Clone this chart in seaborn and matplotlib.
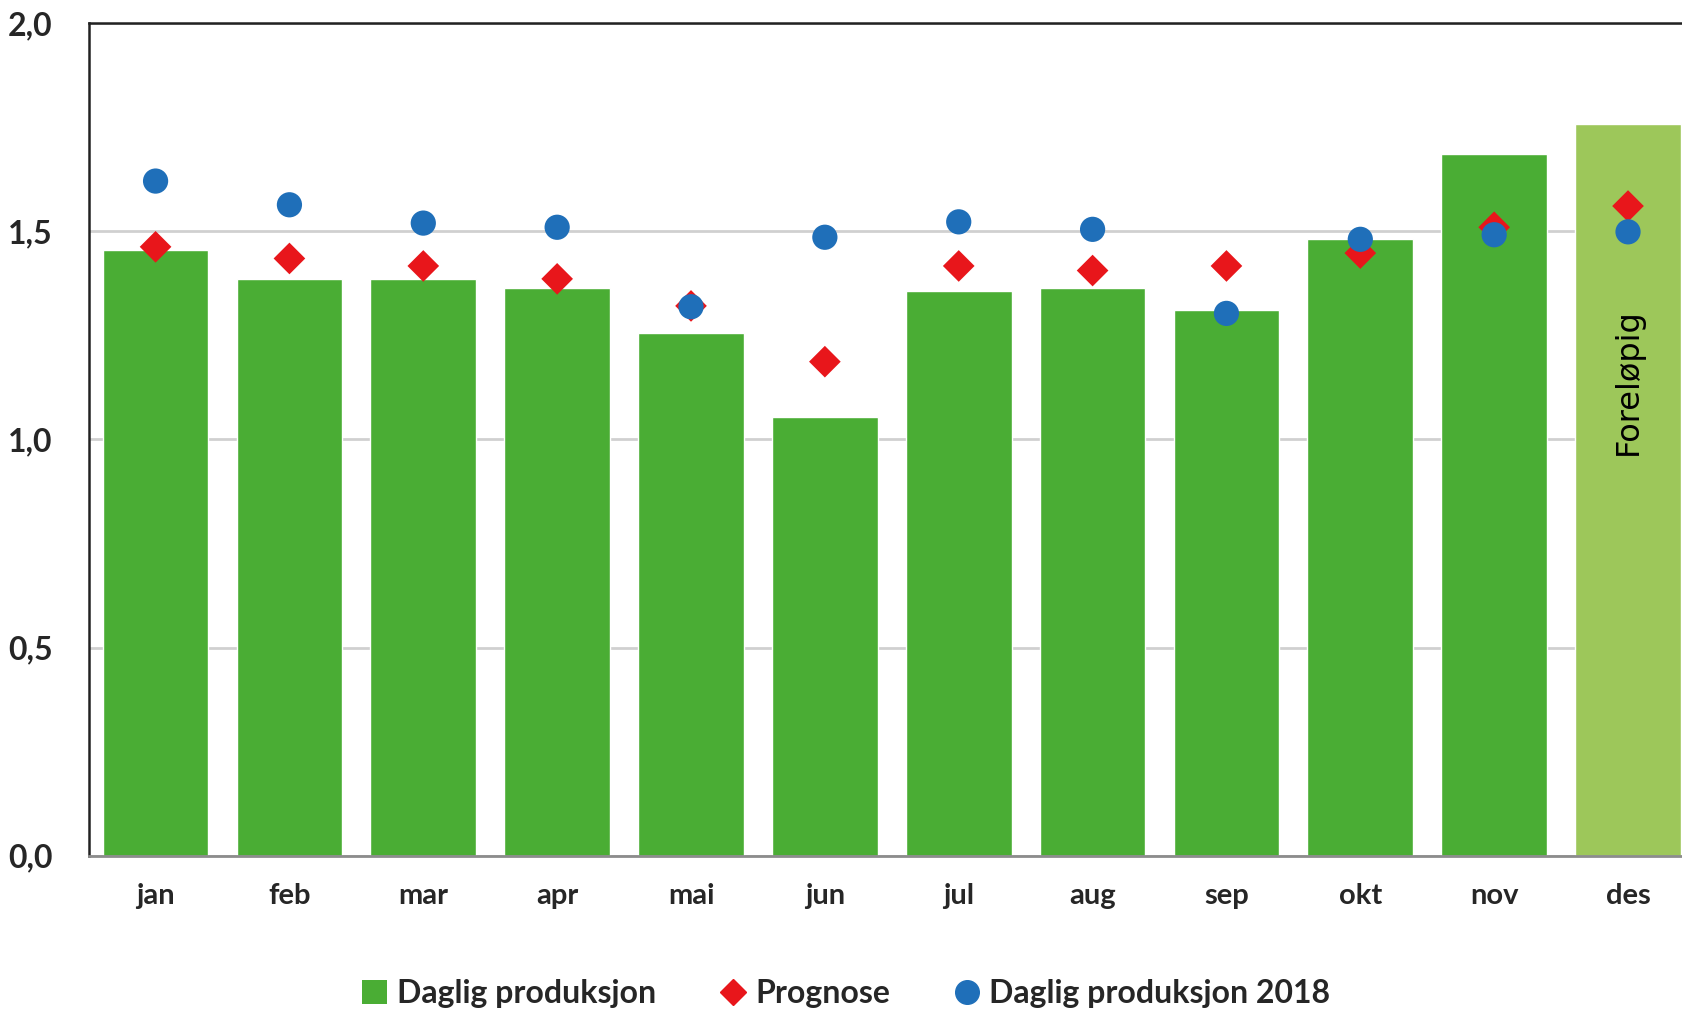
import matplotlib
matplotlib.use("Agg")
import matplotlib.pyplot as plt
from matplotlib.lines import Line2D
from matplotlib.patches import Patch
import matplotlib.ticker as mticker
import seaborn as sns
import pandas as pd

# Data
maneder = ["jan", "feb", "mar", "apr", "mai", "jun", "jul", "aug", "sep", "okt", "nov", "des"]
daglig_produksjon = [1.455, 1.386, 1.386, 1.363, 1.257, 1.053, 1.357, 1.363, 1.311, 1.481, 1.685, 1.757]
prognose = [1.463, 1.435, 1.417, 1.386, 1.321, 1.187, 1.417, 1.406, 1.417, 1.448, 1.510, 1.561]
daglig_produksjon_2018 = [1.621, 1.564, 1.520, 1.510, 1.319, 1.486, 1.523, 1.505, 1.303, 1.481, 1.492, 1.499]
y_ticks = [0.0, 0.5, 1.0, 1.5, 2.0]

GRONN = "#4aad34"
LYSGRONN = "#9dc75a"
ROD = "#e8161b"
BLA = "#1f6fb9"

df = pd.DataFrame({
    "Måned": maneder,
    "Daglig produksjon": daglig_produksjon,
    "Prognose": prognose,
    "Daglig produksjon 2018": daglig_produksjon_2018,
})

sns.set_theme(style="white")
plt.rcParams["font.family"] = ["Lato", "DejaVu Sans"]

fig = plt.figure(figsize=(16.82, 10.15), dpi=100)
ax = fig.add_axes([0.0527, 0.157, 0.955, 0.820])

farger = [GRONN] * 11 + [LYSGRONN]
sns.barplot(data=df, x="Måned", y="Daglig produksjon", hue="Måned", palette=farger,
            legend=False, width=0.79, saturation=1, ax=ax, zorder=2)

sns.scatterplot(data=df, x="Måned", y="Prognose", marker="D", s=260, color=ROD,
                edgecolor="none", ax=ax, zorder=3)
sns.scatterplot(data=df, x="Måned", y="Daglig produksjon 2018", marker="o", s=330, color=BLA,
                edgecolor="none", ax=ax, zorder=4)

# Foreløpig-merke på desember
ax.text(11, 1.14, "Foreløpig", rotation=90, ha="center", va="center",
        fontsize=23, family="DejaVu Sans", color="black", zorder=5)

ax.set_xlim(-0.5, 11.5)
ax.set_ylim(0, 2.0)
ax.set_yticks(y_ticks)
ax.yaxis.set_major_formatter(mticker.FuncFormatter(lambda v, p: f"{v:.1f}".replace(".", ",")))
ax.grid(axis="y", color="#d0d0d0", linewidth=2, zorder=0)
ax.set_axisbelow(True)
ax.set_xlabel("")
ax.set_ylabel("")

ax.tick_params(axis="both", length=0)
ax.tick_params(axis="y", pad=26, labelsize=23)
ax.tick_params(axis="x", pad=20, labelsize=21)
for lbl in ax.get_xticklabels() + ax.get_yticklabels():
    lbl.set_fontweight("bold")

ax.spines["left"].set_color("#222222")
ax.spines["left"].set_linewidth(1.8)
ax.spines["top"].set_color("#222222")
ax.spines["top"].set_linewidth(1.8)
ax.spines["bottom"].set_color("#8c8c8c")
ax.spines["bottom"].set_linewidth(2)
ax.spines["right"].set_visible(False)

handles = [
    Patch(facecolor=GRONN, edgecolor="none", label="Daglig produksjon"),
    Line2D([], [], marker="D", linestyle="none", color=ROD, markersize=13, label="Prognose"),
    Line2D([], [], marker="o", linestyle="none", color=BLA, markersize=17, label="Daglig produksjon 2018"),
]
fig.legend(handles=handles, loc="center", bbox_to_anchor=(0.503, 0.021), ncol=3, frameon=False,
           prop={"weight": "bold", "size": 23}, handlelength=0.8, handleheight=0.8,
           handletextpad=0.3, columnspacing=2.0)

fig.savefig("out.png", dpi=100)
